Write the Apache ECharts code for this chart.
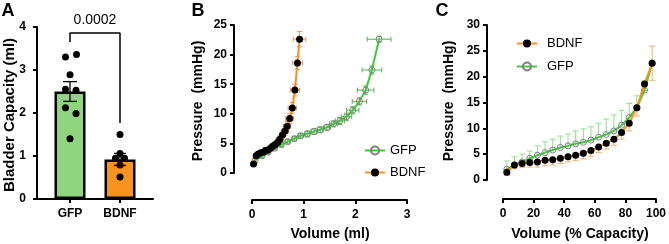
<!DOCTYPE html>
<html>
<head>
<meta charset="utf-8">
<script src="https://cdn.jsdelivr.net/npm/echarts@6/dist/echarts.min.js"></script>
<style>
  html, body { margin: 0; padding: 0; background: #fff; }
  #chart { width: 669px; height: 244px; }
</style>
</head>
<body>
<div id="chart"></div>
<script>
// panel A: bladder capacity per animal
const groups = ['GFP', 'BDNF'];
const capacityMean = [2.50, 0.92];
const capacitySem = [0.23, 0.14];
const gfpCapacity = [3.36, 3.30, 2.89, 2.55, 2.53, 2.12, 1.99, 1.40];
const gfpJitter = [0.13, -0.09, 0, -0.09, 0.12, -0.09, 0.12, 0];
const bdnfCapacity = [1.50, 1.06, 0.95, 0.95, 0.79, 0.51];
const bdnfJitter = [0, 0, -0.09, 0.09, 0, 0];
const pValue = '0.0002';

// panel B / C: filling curves
const pctCapacity = [2.5, 7.5, 12.5, 17.5, 22.5, 27.5, 32.5, 37.5, 42.5, 47.5,
  52.5, 57.5, 62.5, 67.5, 72.5, 77.5, 82.5, 87.5, 92.5, 97.5];
const gfpPressure = [2.1, 2.9, 3.5, 4.2, 4.8, 5.3, 5.8, 6.3, 6.6, 7.0,
  7.3, 7.7, 8.3, 8.8, 9.5, 10.6, 12.1, 14.0, 17.4, 22.6];
const bdnfPressure = [1.5, 2.9, 3.2, 3.4, 3.5, 3.8, 3.9, 4.2, 4.5, 4.8,
  5.2, 5.7, 6.4, 7.1, 7.9, 9.2, 11.0, 14.0, 18.6, 22.6];
const gfpVolume = [0.06, 0.19, 0.31, 0.44, 0.57, 0.69, 0.82, 0.94, 1.07, 1.20,
  1.32, 1.45, 1.58, 1.70, 1.83, 1.95, 2.08, 2.20, 2.32, 2.46];
const bdnfVolume = [0.03, 0.08, 0.12, 0.17, 0.22, 0.26, 0.31, 0.36, 0.40, 0.45,
  0.50, 0.54, 0.59, 0.64, 0.68, 0.73, 0.78, 0.83, 0.88, 0.92];
const gfpVolumeSem = [0.01, 0.02, 0.02, 0.03, 0.03, 0.04, 0.04, 0.05, 0.05, 0.06,
  0.06, 0.07, 0.08, 0.09, 0.10, 0.12, 0.14, 0.16, 0.19, 0.23];
const bdnfVolumeSem = [0.01, 0.01, 0.02, 0.02, 0.02, 0.03, 0.03, 0.04, 0.04, 0.05,
  0.05, 0.06, 0.06, 0.07, 0.07, 0.08, 0.08, 0.09, 0.10, 0.12];
const gfpPressureSemB = [0.3, 0.3, 0.3, 0.3, 0.4, 0.4, 0.4, 0.4, 0.5, 0.5,
  0.5, 0.5, 0.5, 0.6, 0.6, 0.6, 0.6, 0.7, 0.7, 0.5];
const bdnfPressureSemB = [0.3, 0.3, 0.4, 0.4, 0.4, 0.5, 0.5, 0.5, 0.5, 0.6,
  0.6, 0.6, 0.7, 0.7, 0.8, 0.8, 0.9, 1.0, 1.1, 1.3];
const gfpPressureSemC = [1.6, 1.6, 1.5, 1.4, 1.8, 2.1, 2.1, 2.2, 2.3, 2.5,
  2.6, 2.6, 2.7, 3.0, 3.1, 2.9, 2.7, 2.3, 1.8, 0.6];
const bdnfPressureSemC = [0.6, 0.7, 0.8, 0.9, 1.0, 1.0, 1.0, 1.0, 1.0, 1.0,
  1.1, 1.1, 1.1, 1.1, 1.2, 1.3, 1.5, 1.6, 1.3, 3.3];

const GREEN_BAR = '#8fd47f', ORANGE_BAR = '#f7931e';
const GREEN = '#3ccc3c', ORANGE = '#f8901c';
const FONT = 'Liberation Sans, Arial, sans-serif';

const chart = echarts.init(document.getElementById('chart'));

const tickLabel = { color: '#000', fontFamily: FONT, fontWeight: 'bold', fontSize: 12 };
function baseAxis(extra) {
  return Object.assign({
    axisLine: { show: true, onZero: false, lineStyle: { color: '#000', width: 2 } },
    axisTick: { show: true, length: 4, lineStyle: { color: '#000', width: 2 } },
    splitLine: { show: false },
  }, extra);
}

// error bars: [x, y, xSem, yLow, yHigh]
function errorBars(cap) {
  return function (params, api) {
    const x = api.value(0), y = api.value(1);
    const xs = api.value(2), lo = api.value(3), hi = api.value(4);
    const st = { stroke: api.visual('color'), fill: null, lineWidth: 1 };
    const kids = [];
    const seg = (a, b) => kids.push({ type: 'line', shape: { x1: a[0], y1: a[1], x2: b[0], y2: b[1] }, style: st });
    if (lo > 0 || hi > 0) {
      const p0 = api.coord([x, y - lo]), p1 = api.coord([x, y + hi]);
      seg(p0, p1);
      if (lo > 0) seg([p0[0] - cap, p0[1]], [p0[0] + cap, p0[1]]);
      if (hi > 0) seg([p1[0] - cap, p1[1]], [p1[0] + cap, p1[1]]);
    }
    if (xs > 0) {
      const q0 = api.coord([x - xs, y]), q1 = api.coord([x + xs, y]);
      seg(q0, q1);
      seg([q0[0], q0[1] - cap], [q0[0], q0[1] + cap]);
      seg([q1[0], q1[1] - cap], [q1[0], q1[1] + cap]);
    }
    return { type: 'group', children: kids };
  };
}

const gfpB = gfpVolume.map((v, i) => [v, gfpPressure[i]]);
const bdnfB = bdnfVolume.map((v, i) => [v, bdnfPressure[i]]);
const gfpBErr = gfpVolume.map((v, i) => [v, gfpPressure[i], gfpVolumeSem[i], gfpPressureSemB[i], gfpPressureSemB[i]]);
const bdnfBErr = bdnfVolume.map((v, i) => [v, bdnfPressure[i], bdnfVolumeSem[i], bdnfPressureSemB[i], bdnfPressureSemB[i]]);
const gfpC = pctCapacity.map((p, i) => [p, gfpPressure[i]]);
const bdnfC = pctCapacity.map((p, i) => [p, bdnfPressure[i]]);
const gfpCErr = pctCapacity.map((p, i) => [p, gfpPressure[i], 0, 0, gfpPressureSemC[i]]);
const bdnfCErr = pctCapacity.map((p, i) => [p, bdnfPressure[i], 0, bdnfPressureSemC[i], i === pctCapacity.length - 1 ? bdnfPressureSemC[i] : 0]);

const gfpLine = {
  type: 'line', name: 'GFP', symbol: 'circle', symbolSize: 6,
  itemStyle: { color: 'rgba(255,255,255,0)', borderColor: '#808080', borderWidth: 1 },
  lineStyle: { color: GREEN, width: 2 }, z: 3,
};
const bdnfLine = {
  type: 'line', name: 'BDNF', symbol: 'circle', symbolSize: 7,
  itemStyle: { color: '#000', borderColor: '#000', borderWidth: 0 },
  lineStyle: { color: ORANGE, width: 2 }, z: 4,
};

const txt = (text, x, y, size, weight, extra) => Object.assign({
  type: 'text', x: x, y: y,
  style: { text: text, fill: '#000', font: weight + ' ' + size + 'px ' + FONT, align: 'center', verticalAlign: 'middle' },
}, extra || {});

const legendBase = {
  orient: 'vertical', itemWidth: 20, itemHeight: 10, selectedMode: false, padding: 0,
  textStyle: { fontFamily: FONT, fontSize: 13, color: '#000' },
};

chart.setOption({
  animation: false,
  grid: [
    { left: 37, top: 27, width: 116, height: 172 },
    { left: 252, top: 25, width: 155, height: 148 },
    { left: 503, top: 25, width: 155, height: 155 },
  ],
  xAxis: [
    baseAxis({
      gridIndex: 0, type: 'value', min: 0.34, max: 2.66,
      axisTick: { show: true, length: 4, customValues: [1, 2], lineStyle: { color: '#000', width: 2 } },
      axisLabel: Object.assign({ customValues: [1, 2], margin: 9, formatter: v => groups[Math.round(v) - 1] }, tickLabel),
    }),
    baseAxis({ gridIndex: 1, type: 'value', min: 0, max: 3, interval: 1, offset: 27,
      axisLabel: Object.assign({ margin: 9 }, tickLabel) }),
    baseAxis({ gridIndex: 2, type: 'value', min: 0, max: 100, interval: 20, offset: 19,
      axisLabel: Object.assign({ margin: 9 }, tickLabel) }),
  ],
  yAxis: [
    baseAxis({ gridIndex: 0, type: 'value', min: 0, max: 4, interval: 1,
      axisLabel: Object.assign({ margin: 11 }, tickLabel) }),
    baseAxis({ gridIndex: 1, type: 'value', min: 0, max: 25, interval: 5, offset: 18,
      axisLabel: Object.assign({ margin: 7 }, tickLabel) }),
    baseAxis({ gridIndex: 2, type: 'value', min: 0, max: 30, interval: 5, offset: 16,
      axisLabel: Object.assign({ margin: 7 }, tickLabel) }),
  ],
  legend: [
    Object.assign({ data: ['GFP', 'BDNF'], left: 364, top: 144, itemGap: 9 }, legendBase),
    Object.assign({ data: ['BDNF', 'GFP'], left: 516, top: 37, itemGap: 10, itemWidth: 20,
      textStyle: { fontFamily: FONT, fontSize: 13, color: '#000', padding: [0, 0, 0, 5] } }, {
      orient: 'vertical', itemHeight: 10, selectedMode: false, padding: 0 }),
  ],
  series: [
    // panel A
    {
      type: 'bar', xAxisIndex: 0, yAxisIndex: 0, barWidth: 31,
      data: capacityMean.map((m, i) => ({
        value: [i + 1, m],
        itemStyle: { color: i === 0 ? GREEN_BAR : ORANGE_BAR, borderColor: '#000', borderWidth: 2.5 },
      })),
    },
    {
      type: 'custom', xAxisIndex: 0, yAxisIndex: 0, z: 3,
      renderItem: function (params, api) {
        const i = params.dataIndex;
        const cap = i === 0 ? 7 : 6;
        const c = api.coord([api.value(0), api.value(1)]);
        const lo = api.coord([api.value(0), api.value(1) - api.value(2)]);
        const hi = api.coord([api.value(0), api.value(1) + api.value(2)]);
        const st = { stroke: '#000', lineWidth: 1.3 };
        return { type: 'group', children: [
          { type: 'line', shape: { x1: c[0], y1: lo[1], x2: c[0], y2: hi[1] }, style: st },
          { type: 'line', shape: { x1: c[0] - cap, y1: lo[1], x2: c[0] + cap, y2: lo[1] }, style: st },
          { type: 'line', shape: { x1: c[0] - cap, y1: hi[1], x2: c[0] + cap, y2: hi[1] }, style: st },
        ] };
      },
      data: capacityMean.map((m, i) => [i + 1, m, capacitySem[i]]),
    },
    {
      type: 'scatter', xAxisIndex: 0, yAxisIndex: 0, symbolSize: 7, z: 4,
      itemStyle: { color: '#000', opacity: 1 },
      data: gfpCapacity.map((v, i) => [1 + gfpJitter[i], v])
        .concat(bdnfCapacity.map((v, i) => [2 + bdnfJitter[i], v])),
    },
    {
      type: 'line', xAxisIndex: 0, yAxisIndex: 0, symbol: 'none', z: 2,
      lineStyle: { color: '#000', width: 1.5 },
      data: [[1, 3.65], [1, 3.86], [2, 3.86], [2, 1.77]],
    },
    // panel B
    { type: 'custom', xAxisIndex: 1, yAxisIndex: 1, renderItem: errorBars(2.5),
      itemStyle: { color: '#52b452' }, data: gfpBErr, z: 2 },
    { type: 'custom', xAxisIndex: 1, yAxisIndex: 1, renderItem: errorBars(2.5),
      itemStyle: { color: '#e9955a' }, data: bdnfBErr, z: 2 },
    Object.assign({ xAxisIndex: 1, yAxisIndex: 1, data: gfpB }, gfpLine),
    Object.assign({ xAxisIndex: 1, yAxisIndex: 1, data: bdnfB }, bdnfLine),
    // panel C
    { type: 'custom', xAxisIndex: 2, yAxisIndex: 2, renderItem: errorBars(3),
      itemStyle: { color: '#8fe08f' }, data: gfpCErr, z: 2 },
    { type: 'custom', xAxisIndex: 2, yAxisIndex: 2, renderItem: errorBars(3),
      itemStyle: { color: '#f6ac6a' }, data: bdnfCErr, z: 2 },
    Object.assign({ xAxisIndex: 2, yAxisIndex: 2, data: gfpC }, gfpLine),
    Object.assign({ xAxisIndex: 2, yAxisIndex: 2, data: bdnfC }, bdnfLine),
  ],
  graphic: [
    txt('A', 8, 11, 18, 'bold'),
    txt('B', 198, 11, 18, 'bold'),
    txt('C', 442, 11, 18, 'bold'),
    txt(pValue, 95, 20, 14, 'normal'),
    txt('Bladder Capacity (ml)', 10, 115, 15, 'bold', { rotation: Math.PI / 2 }),
    txt('Pressure  (mmHg)', 198, 101, 14, 'bold', { rotation: Math.PI / 2 }),
    txt('Pressure  (mmHg)', 449, 101, 14, 'bold', { rotation: Math.PI / 2 }),
    txt('Volume (ml)', 330, 234, 14, 'bold'),
    txt('Volume (% Capacity)', 580, 234, 14, 'bold'),
  ],
});
</script>
</body>
</html>
